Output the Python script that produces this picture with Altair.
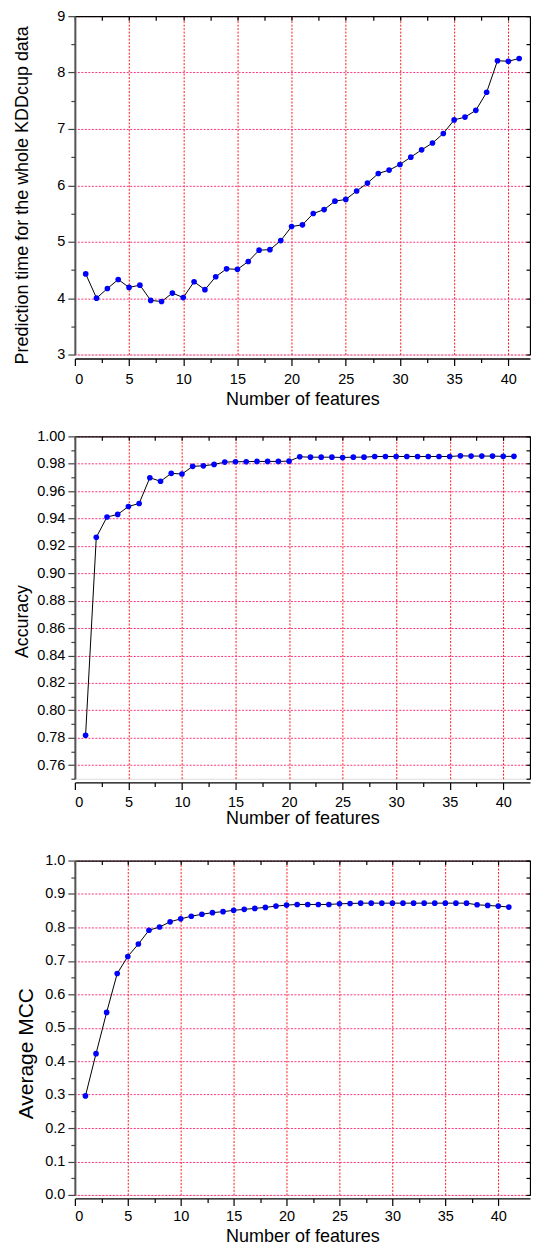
import altair as alt
import pandas as pd

# ---------------- data ----------------
n_features = list(range(1, 42))

pred_time = [4.43, 4.00, 4.17, 4.33, 4.19, 4.23, 3.96, 3.94, 4.09, 4.01,
             4.29, 4.15, 4.38, 4.52, 4.51, 4.65, 4.85, 4.86, 5.02, 5.27,
             5.30, 5.50, 5.57, 5.72, 5.75, 5.90, 6.04, 6.21, 6.27, 6.37,
             6.50, 6.63, 6.75, 6.92, 7.16, 7.21, 7.33, 7.65, 8.21, 8.20, 8.25]

accuracy = [0.7817, 0.9263, 0.9411, 0.9430, 0.9488, 0.9510, 0.9698, 0.9672, 0.9730, 0.9725,
            0.9781, 0.9785, 0.9795, 0.9812, 0.9815, 0.9815, 0.9817, 0.9817, 0.9817, 0.9819,
            0.9851, 0.9848, 0.9848, 0.9848, 0.9846, 0.9848, 0.9848, 0.9853, 0.9853, 0.9853,
            0.9853, 0.9853, 0.9853, 0.9853, 0.9853, 0.9858, 0.9856, 0.9856, 0.9856, 0.9854, 0.9854]

avg_mcc = [0.296, 0.4225, 0.5458, 0.6622, 0.7131, 0.7503, 0.7914, 0.8012, 0.8168, 0.8256,
           0.8335, 0.8393, 0.8442, 0.8472, 0.8511, 0.8540, 0.8569, 0.8599, 0.8638, 0.8667,
           0.8687, 0.8687, 0.8687, 0.8687, 0.8706, 0.8716, 0.8726, 0.8726, 0.8726, 0.8726,
           0.8726, 0.8726, 0.8726, 0.8726, 0.8726, 0.8726, 0.8726, 0.8677, 0.8658, 0.8638, 0.8609]

x_title = "Number of features"
y_titles = ["Prediction time for the whole KDDcup data", "Accuracy", "Average MCC"]

x_major = [0, 5, 10, 15, 20, 25, 30, 35, 40]
x_minor = [2.5, 7.5, 12.5, 17.5, 22.5, 27.5, 32.5, 37.5]

top_y_major = [3, 4, 5, 6, 7, 8, 9]
top_y_minor = [3.5, 4.5, 5.5, 6.5, 7.5, 8.5]
mid_y_major = [0.76, 0.78, 0.80, 0.82, 0.84, 0.86, 0.88, 0.90, 0.92, 0.94, 0.96, 0.98, 1.00]
mid_y_minor = [0.75, 0.77, 0.79, 0.81, 0.83, 0.85, 0.87, 0.89, 0.91, 0.93, 0.95, 0.97, 0.99]
bot_y_major = [0.0, 0.1, 0.2, 0.3, 0.4, 0.5, 0.6, 0.7, 0.8, 0.9, 1.0]
bot_y_minor = [0.05, 0.15, 0.25, 0.35, 0.45, 0.55, 0.65, 0.75, 0.85, 0.95]

FONT = "Liberation Sans"
VGRID = "#ff1a1a"
HGRID = "#ff3380"
PLOT_W = 456


def panel(values, xmax, ymin, ymax, y_major, y_minor, fmt, ytitle, height,
          xoff, xlp, xtp, ytx, yty, ytsize):
    df = pd.DataFrame({"x": n_features, "y": values})
    y_all = sorted(set(y_major + y_minor))
    x_all = sorted(x_major + x_minor)
    xs = alt.Scale(domain=[0, xmax], nice=False, zero=False)
    ys = alt.Scale(domain=[ymin, ymax], nice=False, zero=False)
    base = alt.Chart(df)

    line = base.mark_line(color="black", strokeWidth=1).encode(
        x=alt.X("x:Q", scale=xs, title=x_title,
                axis=alt.Axis(orient="bottom", offset=xoff, values=x_major, format="d",
                              tickSize=7, tickColor="black", tickWidth=1.2,
                              domainColor="black", domainWidth=1.3,
                              labelFont=FONT, labelFontSize=14.5, labelColor="black",
                              labelPadding=xlp, titleFont=FONT, titleFontSize=18,
                              titleFontWeight="normal", titleColor="black",
                              titlePadding=xtp, grid=False)),
        y=alt.Y("y:Q", scale=ys, title=ytitle,
                axis=alt.Axis(orient="left", values=y_major, format=fmt,
                              tickSize=7, tickColor="#444444", tickWidth=1.2,
                              domainColor="#555555", domainWidth=2,
                              labelFont=FONT, labelFontSize=14.5, labelColor="black",
                              labelPadding=3, titleFont=FONT, titleFontSize=ytsize,
                              titleFontWeight="normal", titleColor="black",
                              titleX=ytx, titleY=yty, titleBaseline="top",
                              grid=False)),
    )

    pts = base.mark_point(filled=True, color="#0000ff", size=32, opacity=1,
                          strokeWidth=0).encode(
        x=alt.X("x:Q", scale=xs, title=None,
                axis=alt.Axis(orient="bottom", offset=xoff, values=x_minor,
                              tickSize=4, tickColor="black", tickWidth=1.2,
                              labels=False, domain=False, grid=False)),
        y=alt.Y("y:Q", scale=ys, title=None,
                axis=alt.Axis(orient="left", values=y_minor,
                              tickSize=4, tickColor="#444444", tickWidth=1.2,
                              labels=False, domain=False, grid=False)),
    )

    frame = base.mark_point(opacity=0).encode(
        x=alt.X("x:Q", scale=xs, title=None,
                axis=alt.Axis(orient="top", values=x_major, ticks=False, labels=False,
                              domainColor="black", domainWidth=1.3,
                              grid=True, gridColor=VGRID, gridWidth=1,
                              gridDash=[2, 1.5])),
        y=alt.Y("y:Q", scale=ys, title=None,
                axis=alt.Axis(orient="right", values=y_major, ticks=False, labels=False,
                              domainColor="black", domainWidth=1.3,
                              grid=True, gridColor=HGRID, gridWidth=1,
                              gridDash=[2, 1.5])),
    )

    inner = base.mark_point(opacity=0).encode(
        x=alt.X("x:Q", scale=xs, title=None,
                axis=alt.Axis(orient="top", offset=-4, values=x_all, tickSize=4,
                              tickColor="black", tickWidth=1.2,
                              labels=False, domain=False, grid=False)),
        y=alt.Y("y:Q", scale=ys, title=None,
                axis=alt.Axis(orient="right", offset=-4, values=y_all, tickSize=4,
                              tickColor="black", tickWidth=1.2,
                              labels=False, domain=False, grid=False)),
    )

    return alt.layer(frame, inner, line, pts).resolve_axis(
        x="independent", y="independent"
    ).properties(width=PLOT_W, height=height)


c1 = panel(pred_time, 42, 3, 9, top_y_major, top_y_minor, "d", y_titles[0], 339,
           4, 7, 4.6, -61, 179, 18)
c2 = panel(accuracy, 42.5, 0.75, 1.0, mid_y_major, mid_y_minor, ".2f", y_titles[1], 343,
           3.7, 6, 1, -61, 185, 17.8)
c3 = panel(avg_mcc, 43, 0, 1.0, bot_y_major, bot_y_minor, ".1f", y_titles[2], 335,
           3.5, 4, 4.5, -59, 193, 21)

chart = alt.vconcat(
    c1, c2, c3, spacing=82, bounds="flush",
    padding={"left": 5, "right": -1, "top": -2, "bottom": 0},
).configure_view(stroke=None).configure(background="white")

chart.save("out.html", embed_options={"renderer": "svg", "actions": False})
